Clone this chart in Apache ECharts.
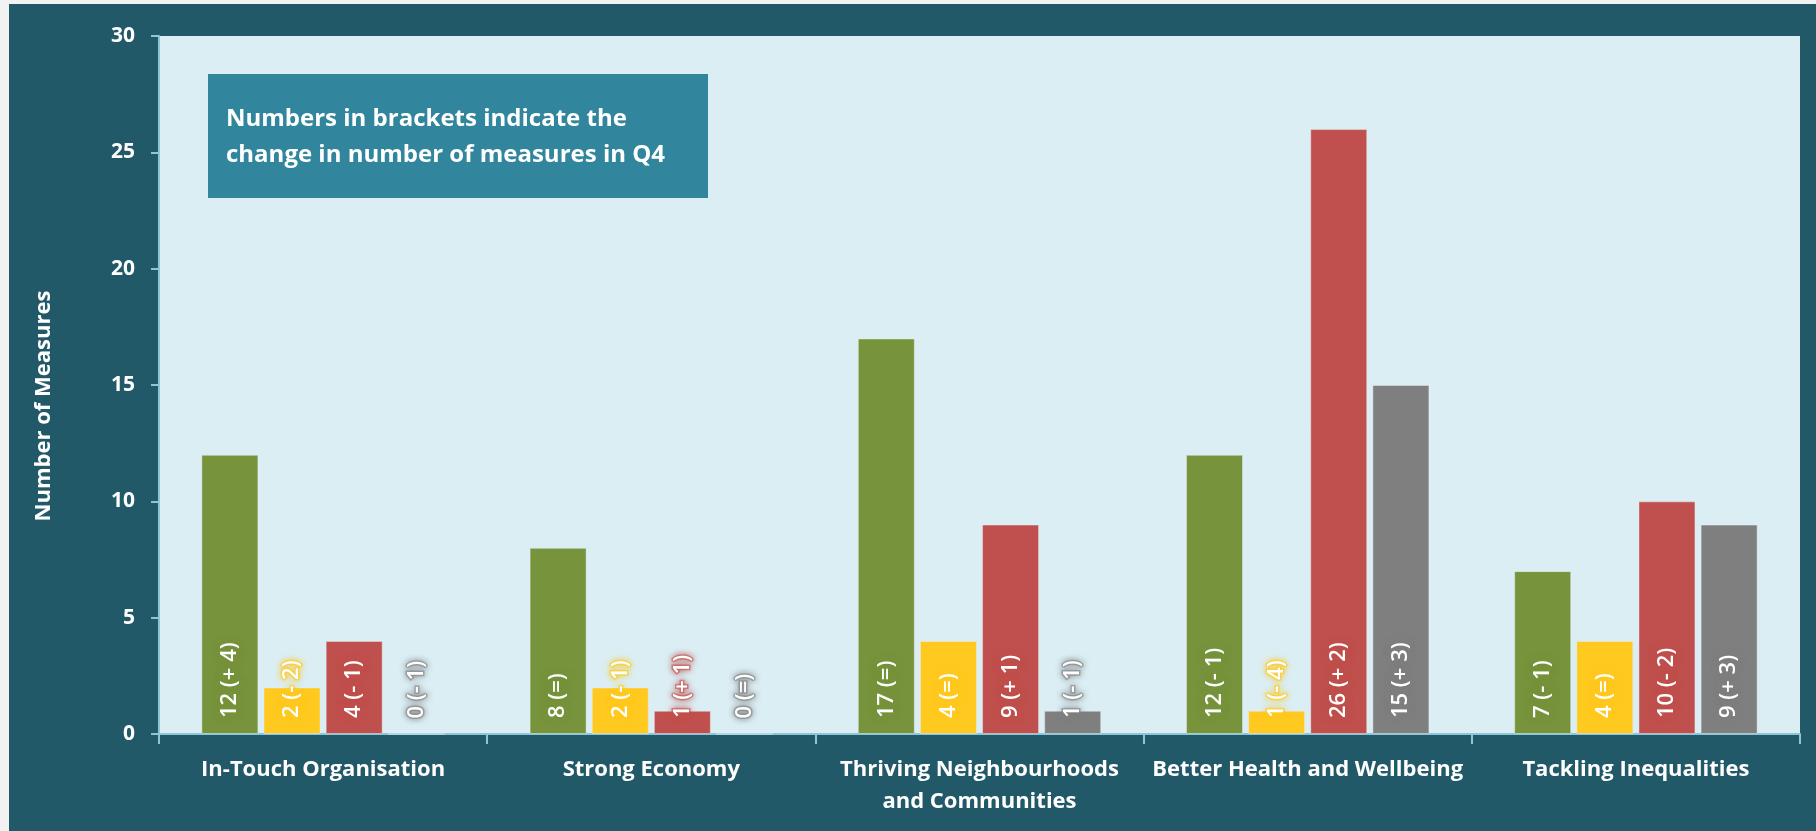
<!DOCTYPE html>
<html>
<head>
<meta charset="utf-8">
<script src="https://cdn.jsdelivr.net/npm/echarts@6/dist/echarts.min.js"></script>
<style>
  html, body { margin: 0; padding: 0; background: #f2f2f2; }
  #chart { position: absolute; left: 9px; top: 4px; width: 1807px; height: 827px; }
</style>
</head>
<body>
<div id="chart"></div>
<script>
// categories along the x axis
const categories = [
  'In-Touch Organisation',
  'Strong Economy',
  'Thriving Neighbourhoods\nand Communities',
  'Better Health and Wellbeing',
  'Tackling Inequalities',
]

// number of measures per status
const greenValues = [12, 8, 17, 12, 7]
const amberValues = [2, 2, 4, 1, 4]
const redValues = [4, 1, 9, 26, 10]
const greyValues = [0, 0, 1, 15, 9]

// change in Q4 shown in brackets
const greenChange = ['+4', '=', '=', '-1', '-1']
const amberChange = ['-2', '-1', '=', '-4', '=']
const redChange = ['-1', '+1', '+1', '+2', '-2']
const greyChange = ['-1', '=', '-1', '+3', '+3']

const yTicks = { min: 0, max: 30, interval: 5 }

const FONT = '"Open Sans", "Noto Sans", sans-serif'

const seriesDefs = [
  { name: 'Green', data: greenValues, change: greenChange, color: '#77933c', glow: 'rgba(119,147,60,0.55)' },
  { name: 'Amber', data: amberValues, change: amberChange, color: '#ffc91f', glow: 'rgba(255,201,31,0.55)' },
  { name: 'Red', data: redValues, change: redChange, color: '#c0504d', glow: 'rgba(192,80,77,0.55)' },
  { name: 'Grey', data: greyValues, change: greyChange, color: '#7f7f7f', glow: 'rgba(127,127,127,0.55)' },
]

const chart = echarts.init(document.getElementById('chart'))

chart.setOption({
  backgroundColor: '#215968',
  animation: false,
  grid: {
    left: 150,
    right: 16,
    top: 32,
    bottom: 97,
    show: true,
    backgroundColor: '#dbeef4',
    borderWidth: 0,
  },
  xAxis: {
    type: 'category',
    data: categories,
    axisLine: { lineStyle: { color: '#8ec6d8', width: 2 } },
    axisTick: { show: true, interval: 0, length: 10, lineStyle: { color: '#8ec6d8', width: 2 } },
    axisLabel: {
      interval: 0,
      color: '#ffffff',
      fontFamily: FONT,
      fontWeight: 'bold',
      fontSize: 22,
      lineHeight: 32,
      margin: 20,
    },
  },
  yAxis: {
    type: 'value',
    min: yTicks.min,
    max: yTicks.max,
    interval: yTicks.interval,
    name: 'Number of Measures',
    nameLocation: 'middle',
    nameGap: 104,
    nameTextStyle: {
      color: '#ffffff',
      fontFamily: FONT,
      fontWeight: 'bold',
      fontSize: 22,
      padding: [0, 42, 0, 0],
    },
    axisLine: { show: true, lineStyle: { color: '#8ec6d8', width: 2 } },
    axisTick: { show: true, length: 8, lineStyle: { color: '#8ec6d8', width: 2 } },
    axisLabel: { color: '#ffffff', fontFamily: FONT, fontWeight: 'bold', fontSize: 21, margin: 24 },
    splitLine: { show: false },
  },
  series: seriesDefs.map((s) => ({
    name: s.name,
    type: 'bar',
    data: s.data,
    barWidth: 57,
    barGap: '9%',
    itemStyle: { color: s.color, borderColor: 'rgba(230,240,244,0.45)', borderWidth: 1 },
    label: {
      show: true,
      position: 'insideBottom',
      distance: 16,
      rotate: 90,
      align: 'left',
      verticalAlign: 'middle',
      color: '#ffffff',
      fontFamily: FONT,
      fontWeight: 600,
      fontSize: 22,
      textBorderColor: s.glow,
      textBorderWidth: 3,
      textShadowColor: s.color,
      textShadowBlur: 6,
      formatter: (p) => `${p.value} (${s.change[p.dataIndex].replace(/^([+-])/, '$1 ')})`,
    },
  })),
  graphic: [
    {
      type: 'rect',
      left: 199,
      top: 70,
      shape: { width: 500, height: 124 },
      style: { fill: '#31859c' },
      z: 10,
    },
    {
      type: 'text',
      left: 217,
      top: 97,
      style: {
        text: 'Numbers in brackets indicate the\nchange in number of measures in Q4',
        fill: '#ffffff',
        font: `bold 24px ${FONT}`,
        lineHeight: 36,
      },
      z: 11,
    },
  ],
})

window.addEventListener('resize', () => chart.resize())
</script>
</body>
</html>
